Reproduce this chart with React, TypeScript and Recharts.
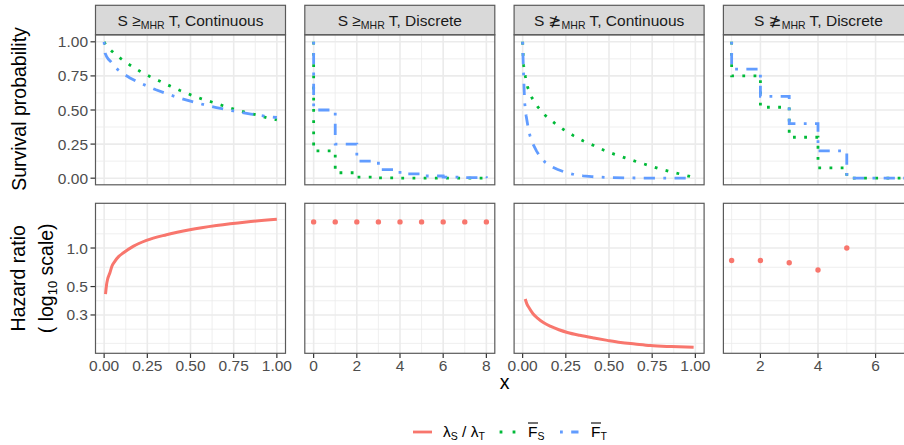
import React from 'react';
import { ComposedChart, Line, Scatter, XAxis, YAxis, CartesianGrid } from 'recharts';

// ---------- data ----------
// Column 1: S >=MHR T, Continuous
const c1SurvSX = [0, 0.01, 0.02, 0.044, 0.097, 0.149, 0.205, 0.262, 0.32, 0.38, 0.44, 0.502, 0.564, 0.627, 0.689, 0.753, 0.815, 0.878, 0.942, 1.0];
const c1SurvS = [1, 0.975, 0.96, 0.932, 0.876, 0.83, 0.786, 0.747, 0.713, 0.677, 0.643, 0.611, 0.582, 0.557, 0.531, 0.506, 0.484, 0.465, 0.443, 0.428];
const c1SurvTX = [0, 0.003, 0.006, 0.015, 0.025, 0.039, 0.06, 0.079, 0.1, 0.15, 0.2, 0.25, 0.3, 0.35, 0.4, 0.45, 0.5, 0.55, 0.6, 0.65, 0.7, 0.75, 0.8, 0.85, 0.9, 0.95, 1.0];
const c1SurvT = [1, 0.95, 0.915, 0.89, 0.872, 0.854, 0.822, 0.796, 0.775, 0.735, 0.703, 0.675, 0.648, 0.625, 0.603, 0.583, 0.565, 0.548, 0.532, 0.518, 0.505, 0.493, 0.481, 0.47, 0.46, 0.452, 0.445];
const c1HazX = [0.008, 0.014, 0.02, 0.033, 0.045, 0.062, 0.085, 0.11, 0.168, 0.245, 0.361, 0.496, 0.65, 0.824, 1.0];
const c1Haz = [0.437, 0.517, 0.57, 0.638, 0.72, 0.787, 0.86, 0.914, 1.03, 1.147, 1.27, 1.39, 1.5, 1.6, 1.68];

// Column 2: S >=MHR T, Discrete
const c2StepX = [0, 0, 1, 2, 3, 4, 5, 6, 7, 8];
const c2SurvS = [1, 0.2, 0.04, 0.008, 0.0016, 0.0003, 0.0001, 0, 0, 0];
const c2SurvT = [1, 0.5, 0.25, 0.125, 0.0625, 0.031, 0.016, 0.008, 0.004, 0.002];
const c2HazX = [0, 1, 2, 3, 4, 5, 6, 7, 8];
const c2Haz = [1.6, 1.6, 1.6, 1.6, 1.6, 1.6, 1.6, 1.6, 1.6];

// Column 3: S not>=MHR T, Continuous
const c3SurvSX = [0, 0.003, 0.006, 0.016, 0.029, 0.054, 0.089, 0.133, 0.185, 0.239, 0.294, 0.352, 0.412, 0.471, 0.533, 0.594, 0.657, 0.719, 0.781, 0.844, 0.908, 0.971, 0.99];
const c3SurvS = [1, 0.9, 0.825, 0.745, 0.667, 0.589, 0.521, 0.458, 0.404, 0.355, 0.312, 0.273, 0.239, 0.205, 0.175, 0.149, 0.122, 0.098, 0.073, 0.051, 0.032, 0.012, 0.007];
const c3SurvTX = [0, 0.002, 0.005, 0.008, 0.012, 0.02, 0.03, 0.042, 0.06, 0.08, 0.1, 0.13, 0.16, 0.2, 0.25, 0.3, 0.35, 0.4, 0.5, 0.6, 0.7, 0.8, 0.9, 0.99];
const c3SurvT = [1, 0.9, 0.78, 0.67, 0.55, 0.46, 0.385, 0.314, 0.25, 0.2, 0.16, 0.117, 0.09, 0.065, 0.042, 0.026, 0.017, 0.011, 0.005, 0.002, 0.001, 0.0005, 0.0002, 0.0001];
const c3HazX = [0.015, 0.025, 0.038, 0.06, 0.086, 0.12, 0.163, 0.21, 0.259, 0.33, 0.413, 0.49, 0.567, 0.65, 0.74, 0.86, 0.99];
const c3Haz = [0.4, 0.365, 0.34, 0.307, 0.284, 0.262, 0.244, 0.23, 0.219, 0.208, 0.198, 0.19, 0.183, 0.178, 0.173, 0.17, 0.168];

// Column 4: S not>=MHR T, Discrete
const c4StepX = [1, 1, 2, 3, 4, 5, 6, 7];
const c4SurvS = [1, 0.75, 0.52, 0.3, 0.075, 0, 0, 0];
const c4SurvT = [1, 0.8, 0.6, 0.4, 0.2, 0, 0, 0];
const c4HazX = [1, 2, 3, 4, 5];
const c4Haz = [0.8, 0.8, 0.767, 0.673, 1.0];

// ticks / labels
const contTicks = [0, 0.25, 0.5, 0.75, 1];
const contMinor = [0.125, 0.375, 0.625, 0.875];
const disc2Ticks = [0, 2, 4, 6, 8];
const disc2Minor = [1, 3, 5, 7];
const disc4Ticks = [2, 4, 6];
const disc4Minor = [1, 3, 5, 7];
const survTicks = [0, 0.25, 0.5, 0.75, 1];
const survMinor = [0.125, 0.375, 0.625, 0.875];
const hazTicks = [0.3, 0.5, 1.0];
const hazMinor = [0.18, 0.2324, 0.3873, 0.7071, 1.291, 1.667];
const stripTitles = [
  { rel: '≥', kind: 'Continuous' },
  { rel: '≥', kind: 'Discrete' },
  { rel: '≱', kind: 'Continuous' },
  { rel: '≱', kind: 'Discrete' },
];

// ---------- styling ----------
const RED = '#F8766D';
const GREEN = '#00BA38';
const BLUE = '#619CFF';
const FONT = '"Liberation Sans", Arial, Helvetica, sans-serif';
const PW = 190;
const PH = 150;
const COL_LEFT = [95.5, 304.8, 514.1, 723.4];
const ROW_TOP = [34.8, 203.3];
const STRIP_TOP = 5.3;
const YW = 95.5;
const XH = 30;
const EXT = 30;
const PADV = 12;
const GRID = '#EBEBEB';
const BORDER = '#5a5a5a';
const LW = 2.8;
const DOTTED = `${LW} ${LW * 3}`;
const DOTDASH = `${LW} ${LW * 3} ${LW * 4} ${LW * 3}`;

const zip = (xs: number[], ys: number[]) => xs.map((x, i) => ({ x, y: ys[i] }));
const f2 = (v: number) => v.toFixed(2);
const f1 = (v: number) => v.toFixed(1);
const f0 = (v: number) => String(v);

const dotShape = (p: any) => <circle cx={p.cx} cy={p.cy} r={2.7} fill={RED} />;

function survLines(sx: number[], s: number[], tx: number[], t: number[], step: boolean) {
  const type = step ? 'stepAfter' : 'linear';
  return [
    <Line key="s" data={zip(sx, s)} dataKey="y" type={type as any} stroke={GREEN} strokeWidth={LW}
      strokeDasharray={DOTTED} strokeLinecap="butt" dot={false} activeDot={false} isAnimationActive={false} />,
    <Line key="t" data={zip(tx, t)} dataKey="y" type={type as any} stroke={BLUE} strokeWidth={LW}
      strokeDasharray={DOTDASH} strokeLinecap="butt" dot={false} activeDot={false} isAnimationActive={false} />,
  ];
}

function hazLine(xs: number[], ys: number[]) {
  return [
    <Line key="h" data={zip(xs, ys)} dataKey="y" type="monotone" stroke={RED} strokeWidth={LW + 0.2}
      dot={false} activeDot={false} isAnimationActive={false} />,
  ];
}

function hazPoints(xs: number[], ys: number[]) {
  return [
    <Scatter key="p" data={zip(xs, ys)} dataKey="y" fill={RED} shape={dotShape} isAnimationActive={false} />,
  ];
}

type PanelCfg = {
  col: number;
  row: number;
  xDomain: [number, number];
  xTicks: number[];
  xMinor: number[];
  xFmt: (v: number) => string;
  series: React.ReactElement[];
};

function Panel({ col, row, xDomain, xTicks, xMinor, xFmt, series }: PanelCfg) {
  const showY = col === 0;
  const showX = row === 1;
  const log = row === 1;
  const padL = showY ? 0 : EXT;
  const padR = EXT;
  const w = PW + (showY ? YW : 0) + padL + padR;
  const h = PH + (showX ? XH : 0) + 2 * PADV;
  const yDomain: [number, number] = log ? [0.1514, 2.247] : [-0.05, 1.05];
  const yTicks = log ? hazTicks : survTicks;
  const yMinor = log ? hazMinor : survMinor;
  const tickStyle = { fill: '#4D4D4D', fontSize: 15.5, fontFamily: FONT };
  return (
    <div style={{ position: 'absolute', left: COL_LEFT[col] - (showY ? YW : 0) - padL, top: ROW_TOP[row] - PADV, width: w, height: h }}>
      <ComposedChart width={w} height={h} margin={{ top: PADV, right: padR, bottom: PADV, left: padL }} style={{ overflow: 'visible' }}>
        <CartesianGrid verticalValues={xMinor} horizontalValues={yMinor} stroke={GRID} strokeWidth={0.8} />
        <CartesianGrid verticalValues={xTicks} horizontalValues={yTicks} stroke={GRID} strokeWidth={1.6} />
        <XAxis dataKey="x" type="number" domain={xDomain} allowDataOverflow ticks={xTicks} interval={0}
          tickFormatter={xFmt} hide={!showX} height={XH} tickSize={5} tickMargin={2} axisLine={false}
          tickLine={{ stroke: '#333333', strokeWidth: 1.2 }} tick={tickStyle} />
        <YAxis dataKey="y" type="number" scale={log ? 'log' : 'linear'} domain={yDomain} allowDataOverflow
          ticks={yTicks} interval={0} tickFormatter={log ? f1 : f2} hide={!showY} width={YW} tickSize={5}
          tickMargin={2.5} axisLine={false} tickLine={{ stroke: '#333333', strokeWidth: 1.2 }} tick={tickStyle} />
        {series}
      </ComposedChart>
    </div>
  );
}

const panels: PanelCfg[] = [
  { col: 0, row: 0, xDomain: [-0.05, 1.05], xTicks: contTicks, xMinor: contMinor, xFmt: f2, series: survLines(c1SurvSX, c1SurvS, c1SurvTX, c1SurvT, false) },
  { col: 1, row: 0, xDomain: [-0.4, 8.4], xTicks: disc2Ticks, xMinor: disc2Minor, xFmt: f0, series: survLines(c2StepX, c2SurvS, c2StepX, c2SurvT, true) },
  { col: 2, row: 0, xDomain: [-0.05, 1.05], xTicks: contTicks, xMinor: contMinor, xFmt: f2, series: survLines(c3SurvSX, c3SurvS, c3SurvTX, c3SurvT, false) },
  { col: 3, row: 0, xDomain: [0.7, 7.3], xTicks: disc4Ticks, xMinor: disc4Minor, xFmt: f0, series: survLines(c4StepX, c4SurvS, c4StepX, c4SurvT, true) },
  { col: 0, row: 1, xDomain: [-0.05, 1.05], xTicks: contTicks, xMinor: contMinor, xFmt: f2, series: hazLine(c1HazX, c1Haz) },
  { col: 1, row: 1, xDomain: [-0.4, 8.4], xTicks: disc2Ticks, xMinor: disc2Minor, xFmt: f0, series: hazPoints(c2HazX, c2Haz) },
  { col: 2, row: 1, xDomain: [-0.05, 1.05], xTicks: contTicks, xMinor: contMinor, xFmt: f2, series: hazLine(c3HazX, c3Haz) },
  { col: 3, row: 1, xDomain: [0.7, 7.3], xTicks: disc4Ticks, xMinor: disc4Minor, xFmt: f0, series: hazPoints(c4HazX, c4Haz) },
];

function Overlay() {
  const sub = 10.5;
  return (
    <svg width={904} height={445} style={{ position: 'absolute', left: 0, top: 0, pointerEvents: 'none' }} fontFamily={FONT}>
      {/* strips */}
      {stripTitles.map((s, i) => (
        <g key={'strip' + i}>
          <rect x={COL_LEFT[i]} y={STRIP_TOP} width={PW} height={ROW_TOP[0] - STRIP_TOP} fill="#D9D9D9" stroke={BORDER} strokeWidth={1.2} />
          <text x={COL_LEFT[i] + PW / 2} y={25.5} textAnchor="middle" fontSize={15.5} fill="#1A1A1A">
            {'S '}
            <tspan fontFamily={s.rel === '≱' ? '"DejaVu Sans", sans-serif' : FONT}>{s.rel}</tspan>
            <tspan fontSize={sub} dy={3}>MHR</tspan>
            <tspan dy={-3}>{' T, ' + s.kind}</tspan>
          </text>
        </g>
      ))}
      {/* panel borders */}
      {[0, 1].map((r) => COL_LEFT.map((l, c) => (
        <rect key={`b${r}${c}`} x={l} y={ROW_TOP[r]} width={PW} height={PH} fill="none" stroke={BORDER} strokeWidth={1.2} />
      )))}
      {/* axis titles */}
      <text x={26} y={109} transform="rotate(-90 26 109)" textAnchor="middle" fontSize={19.5} fill="#000">Survival probability</text>
      <text x={25} y={278.3} transform="rotate(-90 25 278.3)" textAnchor="middle" fontSize={19.5} fill="#000">Hazard ratio</text>
      <text x={53} y={278.3} transform="rotate(-90 53 278.3)" textAnchor="middle" fontSize={19.5} fill="#000">
        {'( log'}
        <tspan fontSize={13} dy={4}>10</tspan>
        <tspan dy={-4}>{' scale)'}</tspan>
      </text>
      <text x={504.5} y={389} textAnchor="middle" fontSize={19.5} fill="#000">x</text>
      {/* legend */}
      <line x1={413} y1={432} x2={432} y2={432} stroke={RED} strokeWidth={LW} />
      <text x={443} y={437} fontSize={15.5} fill="#000">
        {'λ'}
        <tspan fontSize={sub} dy={3}>S</tspan>
        <tspan dy={-3}>{' / λ'}</tspan>
        <tspan fontSize={sub} dy={3}>T</tspan>
      </text>
      <line x1={499.6} y1={432} x2={516} y2={432} stroke={GREEN} strokeWidth={LW} strokeDasharray={`${LW} 10.2`} />
      <line x1={528} y1={423} x2={538} y2={423} stroke="#000" strokeWidth={1.1} />
      <text x={528} y={437} fontSize={15.5} fill="#000">
        {'F'}
        <tspan fontSize={sub} dy={3}>S</tspan>
      </text>
      <line x1={560} y1={432} x2={578.5} y2={432} stroke={BLUE} strokeWidth={LW} strokeDasharray={DOTDASH} />
      <line x1={591} y1={423} x2={601} y2={423} stroke="#000" strokeWidth={1.1} />
      <text x={591} y={437} fontSize={15.5} fill="#000">
        {'F'}
        <tspan fontSize={sub} dy={3}>T</tspan>
      </text>
    </svg>
  );
}

export default function App() {
  return (
    <div style={{ position: 'fixed', left: 0, top: 0, width: 904, height: 445, overflow: 'hidden', background: '#fff', fontFamily: FONT }}>
      {panels.map((p, i) => <Panel key={i} {...p} />)}
      <Overlay />
    </div>
  );
}
